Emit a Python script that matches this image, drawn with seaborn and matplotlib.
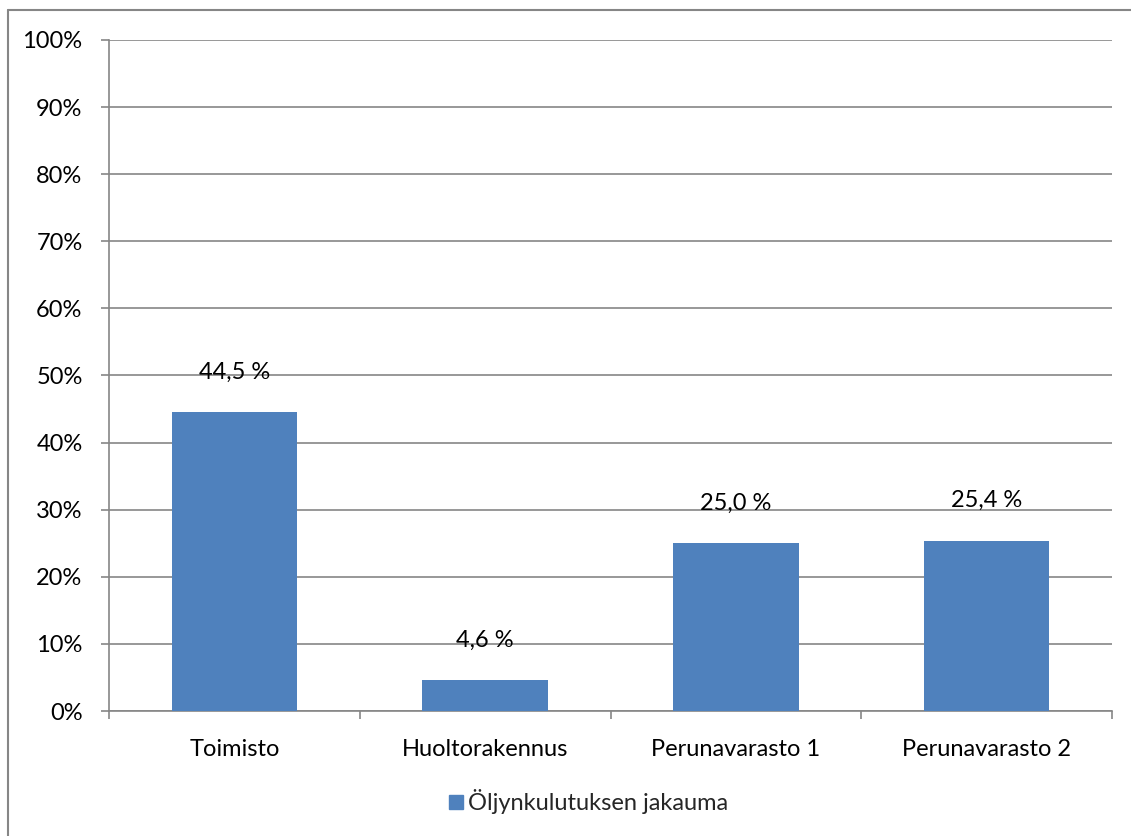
import seaborn as sns
import matplotlib.pyplot as plt
import matplotlib.ticker as mticker
import pandas as pd
import numpy as np
from matplotlib.lines import Line2D

# data
kategoriat = ["Toimisto", "Huoltorakennus", "Perunavarasto 1", "Perunavarasto 2"]
osuudet = [0.445, 0.046, 0.250, 0.254]
etiketit = ["44,5 %", "4,6 %", "25,0 %", "25,4 %"]
sarja = "Öljynkulutuksen jakauma"

sns.set_theme(style="white")
plt.rcParams["font.family"] = ["Lato", "DejaVu Sans"]

df = pd.DataFrame({"Kohde": kategoriat, "Osuus": osuudet})

fig = plt.figure(figsize=(11.31, 8.36), dpi=100)
ax = fig.add_axes([109 / 1131, 1 - 711 / 836, (1112 - 109) / 1131, (711 - 40) / 836])

sns.barplot(data=df, x="Kohde", y="Osuus", ax=ax, color="#4F81BD",
            width=0.5, saturation=1, linewidth=0, zorder=3)

gray = "#868686"
fs = 17
ax.set_ylim(0, 1)
ax.set_xlim(-0.5, len(kategoriat) - 0.5)
ax.yaxis.set_major_locator(mticker.MultipleLocator(0.1))
ax.yaxis.set_major_formatter(mticker.FuncFormatter(lambda v, p: f"{v * 100:.0f}%"))
ax.grid(axis="y", color=gray, linewidth=1.2, zorder=0)
ax.set_axisbelow(True)
for s in ["top", "right"]:
    ax.spines[s].set_visible(False)
for s in ["left", "bottom"]:
    ax.spines[s].set_color(gray)
    ax.spines[s].set_linewidth(1.2)

ax.tick_params(axis="y", which="major", left=True, length=6, width=1.2,
               color=gray, labelsize=fs, pad=13, labelcolor="black")
ax.tick_params(axis="x", which="major", bottom=False, labelsize=fs, pad=14,
               labelcolor="black")
ax.set_xticks(np.arange(-0.5, len(kategoriat)), minor=True)
ax.tick_params(axis="x", which="minor", bottom=True, length=6, width=1.2,
               color=gray)
ax.set_xlabel("")
ax.set_ylabel("")

for i, (v, t) in enumerate(zip(osuudet, etiketit)):
    ax.annotate(t, (i, v), xytext=(0, 29), textcoords="offset points",
                ha="center", va="center", fontsize=fs, color="black")

handle = Line2D([], [], marker="s", linestyle="none", markersize=10,
                markerfacecolor="#4F81BD", markeredgecolor="#4F81BD")
fig.legend([handle], [sarja], loc="center", bbox_to_anchor=(586 / 1131, 1 - 802 / 836),
           frameon=False, fontsize=fs, handletextpad=0.0, handlelength=1.0)

# outer frame
fig.add_artist(Line2D([8 / 1131, 8 / 1131], [0, 1 - 10 / 836], color=gray, linewidth=1.5,
                      transform=fig.transFigure))
fig.add_artist(Line2D([8 / 1131, 1], [1 - 10 / 836, 1 - 10 / 836], color=gray, linewidth=1.5,
                      transform=fig.transFigure))

fig.savefig("out.png", dpi=100)
